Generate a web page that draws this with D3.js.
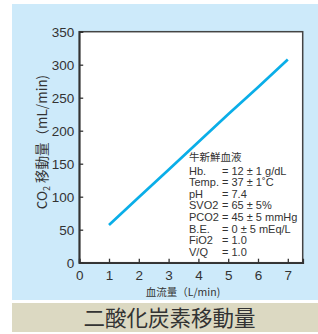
<!DOCTYPE html>
<html><head><meta charset="utf-8">
<script src="https://cdn.jsdelivr.net/npm/d3@7"></script>
<style>
html,body{margin:0;padding:0;background:#fff;}
svg{display:block;font-family:"Liberation Sans","Noto Sans CJK JP",sans-serif;}
</style></head>
<body><svg id="c" width="318" height="334"></svg>
<script>
const flowRates = [1, 2, 3, 4, 5, 6, 7];
const co2Transfer = [57, 99, 141, 183, 225, 266, 308];
const xTicks = [0, 1, 2, 3, 4, 5, 6, 7];
const yTicks = [0, 50, 100, 150, 200, 250, 300, 350];
const noteTitle = "牛新鮮血液";
const noteLabels = ["Hb.", "Temp.", "pH", "SVO2", "PCO2", "B.E.", "FiO2", "V/Q"];
const noteValues = ["= 12 ± 1 g/dL", "= 37 ± 1˚C", "= 7.4", "= 65 ± 5%", "= 45 ± 5 mmHg", "= 0 ± 5 mEq/L", "= 1.0", "= 1.0"];
const xTitle = "血流量（L/min)";
const yTitle = "移動量（mL/min)";
const chartTitle = "二酸化炭素移動量";

const svg = d3.select("#c");
svg.append("rect").attr("x",12).attr("y",4).attr("width",306).attr("height",296).attr("fill","#cdeafa");
svg.append("rect").attr("x",12).attr("y",303).attr("width",306).attr("height",29).attr("fill","#dcd9c2");

const L=79.2, R=302.7, T=31.7, B=262.7;
const x = d3.scaleLinear().domain([0,7.5]).range([L,R]);
const y = d3.scaleLinear().domain([0,350]).range([B,T]);

svg.append("rect").attr("x",L).attr("y",T).attr("width",R-L).attr("height",B-T)
  .attr("fill","#fff").attr("stroke","#444").attr("stroke-width",1.5);

const xa = svg.append("g").attr("transform",`translate(0,${B})`)
  .call(d3.axisBottom(x).tickValues(xTicks).tickSize(-4).tickPadding(6).tickFormat(d3.format("d")));
const ya = svg.append("g").attr("transform",`translate(${L},0)`)
  .call(d3.axisLeft(y).tickValues(yTicks).tickSize(-4).tickPadding(5).tickFormat(d3.format("d")));
[xa,ya].forEach(a=>{
  a.select(".domain").attr("stroke","#333").attr("stroke-width",1.8);
  a.selectAll(".tick line").attr("stroke","#333").attr("stroke-width",1.3);
  a.selectAll(".tick text").attr("fill","#333").style("font-size","13.5px").style("font-family","'Liberation Sans',sans-serif");
});
xa.selectAll(".tick text").attr("dy","0.85em");
ya.selectAll(".tick text").attr("dy","0.35em");

const line = d3.line().x((d,i)=>x(flowRates[i])).y(d=>y(d));
svg.append("path").datum(co2Transfer).attr("d",line).attr("fill","none")
  .attr("stroke","#0aaee8").attr("stroke-width",2.7);

// note
const ng = svg.append("g").attr("fill","#333").style("font-size","11px");
ng.append("text").attr("x",189).attr("y",161).text(noteTitle)
  .style("font-family","'Noto Sans CJK JP',sans-serif").style("font-size","10.5px");
noteLabels.forEach((t,i)=>{
  const yy = 174.5 + i*11.6;
  ng.append("text").attr("x",189).attr("y",yy).text(t);
  ng.append("text").attr("x",222).attr("y",yy).text(noteValues[i]);
});

// axis titles
svg.append("text").attr("x",183).attr("y",295.5).attr("text-anchor","middle")
  .attr("fill","#333").style("font-size","10.5px")
  .style("font-family","'Noto Sans CJK JP',sans-serif").text(xTitle);

const yt = svg.append("text").attr("transform","translate(47,142) rotate(-90)")
  .attr("text-anchor","middle").attr("fill","#333").style("font-size","13.5px")
  .style("font-family","'Noto Sans CJK JP',sans-serif");
yt.append("tspan").text("CO");
yt.append("tspan").text("2").style("font-size","9px").attr("dy","3");
yt.append("tspan").text(" " + yTitle).attr("dy","-3");

svg.append("text").attr("x",169.5).attr("y",318).attr("text-anchor","middle").attr("dy","0.36em")
  .attr("fill","#333").style("font-size","21.5px")
  .style("font-family","'Noto Sans CJK JP',sans-serif").text(chartTitle);
</script></body></html>
